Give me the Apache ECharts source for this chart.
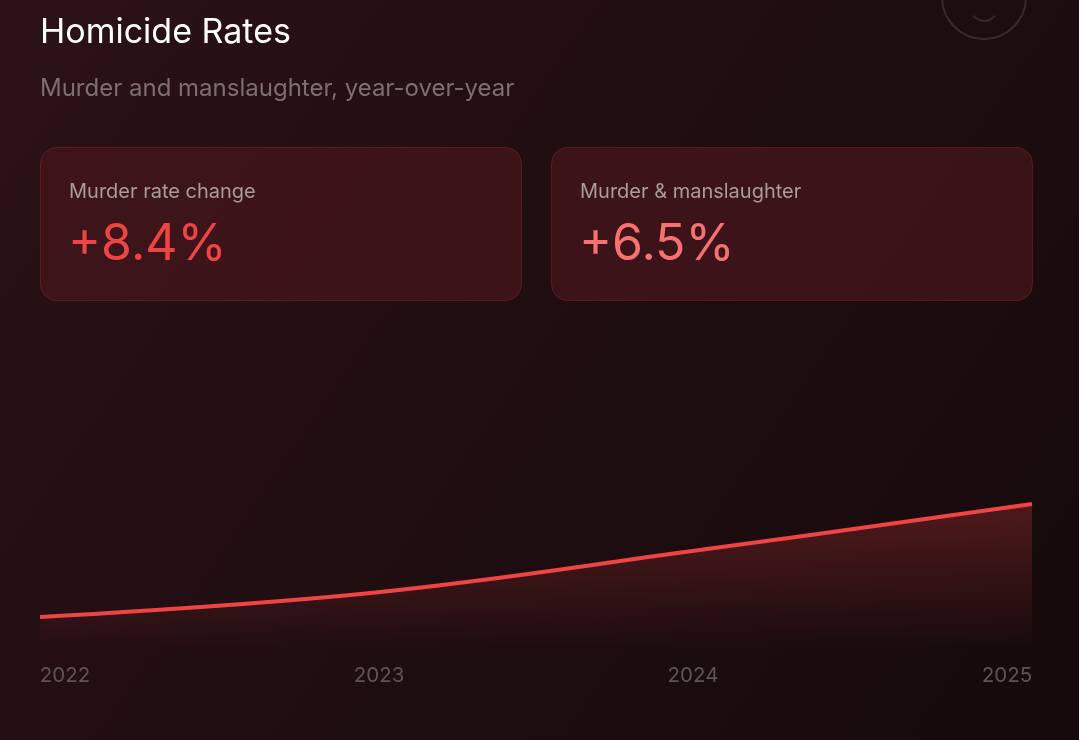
<!DOCTYPE html>
<html>
<head>
<meta charset="utf-8">
<title>Homicide Rates</title>
<script src="https://cdn.jsdelivr.net/npm/echarts@6/dist/echarts.min.js"></script>
<style>
  html, body { margin: 0; padding: 0; background: #1d0d10; }
  #chart { width: 1079px; height: 740px; }
</style>
</head>
<body>
<div id="chart"></div>
<script>
// data
var years = ['2022', '2023', '2024', '2025'];
var homicideIndex = [10.3, 17.8, 31.3, 45.6];   // relative level, axis 0..100
var cardLabels = ['Murder rate change', 'Murder & manslaughter'];
var cardValues = ['+8.4%', '+6.5%'];

var FONT = 'Inter, "Noto Sans", sans-serif';

var myChart = echarts.init(document.getElementById('chart'));

// two stat cards on top
function card(i) {
  var x = i == 0 ? 40 : 551;
  return [
    {
      type: 'rect',
      shape: { x: x + 0.5, y: 147.5, width: 481, height: 153, r: 16 },
      style: { fill: 'rgba(70,22,28,0.75)', stroke: 'rgba(239,68,68,0.22)', lineWidth: 1 }
    },
    {
      type: 'text',
      style: {
        text: cardLabels[i], x: x + 29, y: 192,
        font: '400 20px ' + FONT, fill: '#a99c9d',
        textVerticalAlign: 'middle'
      }
    },
    {
      type: 'text',
      style: {
        text: cardValues[i], x: x + 28, y: 245,
        font: '400 50px ' + FONT, fill: i == 0 ? '#ef4444' : '#f87171',
        textVerticalAlign: 'middle'
      }
    }
  ];
}

var option = {
  backgroundColor: {
    type: 'linear', x: 0, y: 0, x2: 1, y2: 1,
    colorStops: [
      { offset: 0, color: '#2b1217' },
      { offset: 0.55, color: '#1e0d10' },
      { offset: 1, color: '#160a0c' }
    ]
  },
  animation: false,
  graphic: [
    // smiley in the corner, mostly off the top edge
    {
      type: 'circle',
      shape: { cx: 984, cy: -3, r: 42 },
      style: { fill: 'none', stroke: 'rgba(255,255,255,0.12)', lineWidth: 2 }
    },
    {
      type: 'arc',
      shape: { cx: 984, cy: 8, r: 13, startAngle: Math.PI * 0.22, endAngle: Math.PI * 0.78 },
      style: { fill: 'none', stroke: 'rgba(255,255,255,0.12)', lineWidth: 2, lineCap: 'round' }
    },
    {
      type: 'text',
      style: {
        text: 'Homicide Rates', x: 40, y: 33,
        font: '400 34px ' + FONT, fill: '#ffffff',
        textVerticalAlign: 'middle'
      }
    },
    {
      type: 'text',
      style: {
        text: 'Murder and manslaughter, year-over-year', x: 40, y: 89,
        font: '400 24px ' + FONT, fill: '#7b6f71',
        textVerticalAlign: 'middle'
      }
    }
  ].concat(card(0), card(1)),
  grid: [
    { left: 40, right: 47, top: 330, bottom: 90 },
    { left: 65, right: 72, top: 655, height: 1 }   // only carries the year labels
  ],
  xAxis: [
    {
      type: 'category', gridIndex: 0, data: years, boundaryGap: false,
      axisLine: { show: false }, axisTick: { show: false }, axisLabel: { show: false }
    },
    {
      type: 'category', gridIndex: 1, data: years, boundaryGap: false,
      axisLine: { show: false }, axisTick: { show: false },
      axisLabel: { color: '#5e5356', fontSize: 20.5, fontFamily: FONT, margin: 9 }
    }
  ],
  yAxis: [
    { type: 'value', gridIndex: 0, min: 0, max: 100, show: false },
    { type: 'value', gridIndex: 1, show: false }
  ],
  series: [
    {
      name: 'Homicide',
      type: 'line',
      xAxisIndex: 0, yAxisIndex: 0,
      data: homicideIndex,
      smooth: 0.4,
      symbol: 'none',
      lineStyle: { color: '#ef4444', width: 4 },
      areaStyle: {
        color: {
          type: 'linear', x: 0, y: 0, x2: 0, y2: 1,
          colorStops: [
            { offset: 0, color: 'rgba(239,68,68,0.36)' },
            { offset: 0.7, color: 'rgba(239,68,68,0.11)' },
            { offset: 1, color: 'rgba(239,68,68,0)' }
          ]
        }
      }
    }
  ]
};

myChart.setOption(option);
</script>
</body>
</html>
